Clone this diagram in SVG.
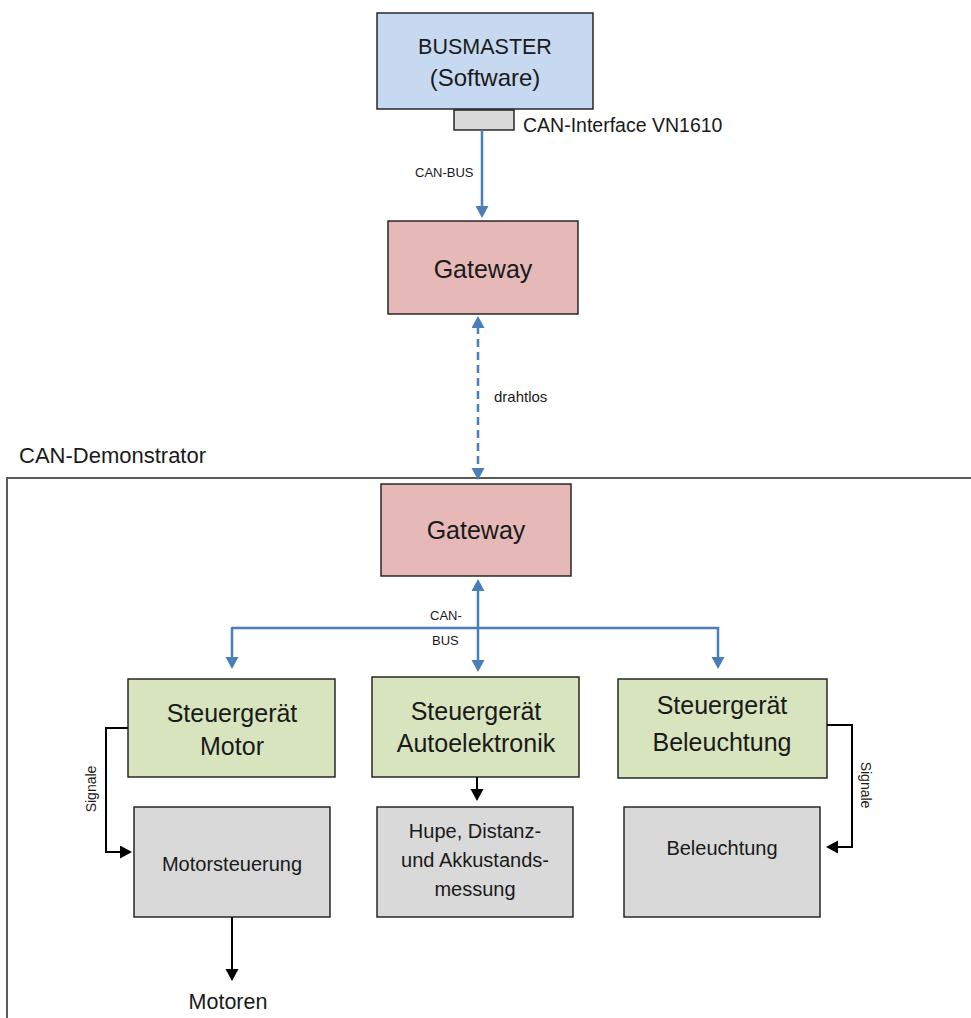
<svg xmlns="http://www.w3.org/2000/svg" width="971" height="1018" viewBox="0 0 971 1018">
  <style>
    text { font-family: "Liberation Sans", Arial, sans-serif; fill: #1a1a1a; }
    .box { stroke: #1a1a1a; stroke-width: 1.4; }
    .pc { fill: #c6d9f1; }
    .gw { fill: #e6b9b8; }
    .ecu { fill: #d7e4bd; }
    .dev { fill: #d9d9d9; }
    .big { font-size: 25px; text-anchor: middle; }
    .mid { font-size: 20px; text-anchor: middle; }
    .small { font-size: 13px; }
    .bus { fill: none; stroke: #4a7ebb; stroke-width: 2.5; }
    .sig { fill: none; stroke: #000; stroke-width: 2; }
  </style>
  <defs>
    <marker id="blueHead" markerUnits="userSpaceOnUse" markerWidth="14" markerHeight="14" refX="2" refY="6.5" orient="auto-start-reverse" viewBox="0 0 14 14">
      <path d="M0,0 L12,6.5 L0,13 z" fill="#4a7ebb"/>
    </marker>
    <marker id="blackHead" markerUnits="userSpaceOnUse" markerWidth="14" markerHeight="14" refX="2" refY="6.5" orient="auto-start-reverse" viewBox="0 0 14 14">
      <path d="M0,0 L12,6.5 L0,13 z" fill="#000"/>
    </marker>
  </defs>

  <!-- demonstrator frame -->
  <g id="demonstrator">
    <rect x="7" y="478" width="1000" height="600" fill="none" stroke="#595959" stroke-width="2"/>
    <text x="19" y="463" style="font-size:22px">CAN-Demonstrator</text>
  </g>

  <!-- PC side -->
  <g id="busmaster">
    <rect class="box pc" x="377" y="13" width="216" height="96"/>
    <text class="big" x="485" y="54" style="font-size:21.5px">BUSMASTER</text>
    <text class="big" x="485" y="86" style="font-size:24px">(Software)</text>
  </g>
  <g id="can-interface">
    <rect class="box dev" x="454" y="110" width="60" height="20"/>
    <text x="523" y="132" style="font-size:19.5px">CAN-Interface VN1610</text>
  </g>

  <g id="gateway-pc">
    <rect class="box gw" x="388" y="221" width="190" height="93"/>
    <text class="big" x="483" y="278">Gateway</text>
  </g>

  <g id="gateway-demo">
    <rect class="box gw" x="381" y="484" width="190" height="92"/>
    <text class="big" x="476" y="539">Gateway</text>
  </g>

  <!-- control units -->
  <g id="ecu-motor">
    <rect class="box ecu" x="128" y="679" width="207" height="98"/>
    <text class="big" x="232" y="722">Steuergerät</text>
    <text class="big" x="232" y="755">Motor</text>
  </g>
  <g id="ecu-auto">
    <rect class="box ecu" x="372" y="677" width="207" height="100"/>
    <text class="big" x="476" y="720">Steuergerät</text>
    <text class="big" x="476" y="752">Autoelektronik</text>
  </g>
  <g id="ecu-light">
    <rect class="box ecu" x="618" y="679" width="209" height="99"/>
    <text class="big" x="722" y="714">Steuergerät</text>
    <text class="big" x="722" y="751">Beleuchtung</text>
  </g>

  <!-- actuators -->
  <g id="dev-motor">
    <rect class="box dev" x="134" y="807" width="196" height="110"/>
    <text class="mid" x="232" y="871">Motorsteuerung</text>
  </g>
  <g id="dev-auto">
    <rect class="box dev" x="377" y="807" width="196" height="110"/>
    <text class="mid" x="475" y="838">Hupe, Distanz-</text>
    <text class="mid" x="475" y="867">und Akkustands-</text>
    <text class="mid" x="475" y="896">messung</text>
  </g>
  <g id="dev-light">
    <rect class="box dev" x="624" y="807" width="196" height="110"/>
    <text class="mid" x="722" y="855">Beleuchtung</text>
  </g>

  <g id="motoren">
    <text class="mid" x="228" y="1009" style="font-size:21.5px">Motoren</text>
  </g>

  <!-- connectors -->
  <g id="connectors">
    <!-- wired CAN from interface to gateway -->
    <line class="bus" x1="482" y1="130" x2="482" y2="208" marker-end="url(#blueHead)"/>
    <text class="small" x="415" y="177">CAN-BUS</text>

    <!-- wireless link -->
    <line class="bus" x1="478" y1="326" x2="478" y2="470" stroke-dasharray="8 5" marker-start="url(#blueHead)" marker-end="url(#blueHead)"/>
    <text class="small" x="494" y="402" style="font-size:15px">drahtlos</text>

    <!-- internal CAN bus -->
    <line class="bus" x1="478" y1="589" x2="478" y2="662" marker-start="url(#blueHead)" marker-end="url(#blueHead)"/>
    <path class="bus" d="M232,628 H718" stroke-width="2"/>
    <line class="bus" x1="232" y1="627" x2="232" y2="659" stroke-width="2" marker-end="url(#blueHead)"/>
    <line class="bus" x1="718" y1="627" x2="718" y2="659" stroke-width="2" marker-end="url(#blueHead)"/>
    <text class="small" x="430" y="620">CAN-</text>
    <text class="small" x="432" y="645">BUS</text>

    <!-- signal lines -->
    <path class="sig" d="M128,728 H106 V852 H122" marker-end="url(#blackHead)"/>
    <text class="small" transform="translate(96,789) rotate(-90)" text-anchor="middle" style="font-size:14px">Signale</text>

    <path class="sig" d="M827,725 H852 V847 H836" marker-end="url(#blackHead)"/>
    <text class="small" transform="translate(861,785) rotate(90)" text-anchor="middle" style="font-size:14px">Signale</text>

    <line class="sig" x1="477" y1="777" x2="477" y2="791" marker-end="url(#blackHead)"/>
    <line class="sig" x1="232" y1="917" x2="232" y2="971" marker-end="url(#blackHead)"/>
  </g>
</svg>
